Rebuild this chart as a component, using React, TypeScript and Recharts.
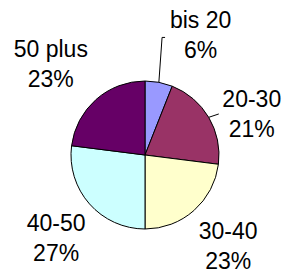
import React from "react";
import { PieChart, Pie, Cell } from "recharts";

const categories = ["bis 20", "20-30", "30-40", "40-50", "50 plus"];
const values = [6, 21, 23, 27, 23];
const colors = ["#9999FF", "#993366", "#FFFFCC", "#CCFFFF", "#660066"];

// label layout tweaks (offset from a point at 1.7 * outer radius along mid angle)
const labelNudge = [
  [32, 12],
  [-1.5, 31],
  [0, 5],
  [5.5, 8],
  [-11, 11.5],
];
// leader lines: end points relative to label anchor (null = none)
const leaderEnds: (number[][] | null)[] = [
  [[-38.5, -6], [-35.5, -6]],
  [[-33, -8]],
  null,
  null,
  null,
];

const total = values.reduce((a, b) => a + b, 0);
const data = categories.map((name, i) => ({ name, value: values[i] }));
const RAD = Math.PI / 180;

const renderLabel = (props: any) => {
  const { cx, cy, midAngle, outerRadius, index } = props;
  const r = outerRadius * 1.7;
  const bx = cx + r * Math.cos(-midAngle * RAD);
  const by = cy + r * Math.sin(-midAngle * RAD);
  const x = bx + labelNudge[index][0];
  const y = by + labelNudge[index][1];
  const ex = cx + outerRadius * Math.cos(-midAngle * RAD);
  const ey = cy + outerRadius * Math.sin(-midAngle * RAD);
  const le = leaderEnds[index];
  const pct = Math.round((values[index] / total) * 100) + "%";
  return (
    <g key={"lbl" + index}>
      {le && (
        <polyline
          points={[[ex, ey], ...le.map((p) => [x + p[0], y + p[1]])]
            .map((p) => p.join(","))
            .join(" ")}
          fill="none"
          stroke="#000"
          strokeWidth={1}
        />
      )}
      <text
        x={x}
        y={y}
        textAnchor="middle"
        fontFamily="'Liberation Sans', Arial, sans-serif"
        fontSize={23}
        fill="#000"
      >
        <tspan x={x} y={y - 15}>
          {categories[index]}
        </tspan>
        <tspan x={x} y={y + 15}>
          {pct}
        </tspan>
      </text>
    </g>
  );
};

export default function App() {
  return (
    <div style={{ position: "absolute", left: 0, top: 0, width: 282, height: 272, background: "#fff" }}>
      <PieChart width={282} height={272} margin={{ top: 0, right: 0, bottom: 0, left: 0 }}>
        <Pie
          data={data}
          dataKey="value"
          nameKey="name"
          cx={145}
          cy={155}
          outerRadius={74}
          startAngle={90}
          endAngle={-270}
          stroke="#000"
          strokeWidth={1}
          labelLine={false}
          label={renderLabel}
          isAnimationActive={false}
        >
          {data.map((d, i) => (
            <Cell key={d.name} fill={colors[i]} />
          ))}
        </Pie>
      </PieChart>
    </div>
  );
}
